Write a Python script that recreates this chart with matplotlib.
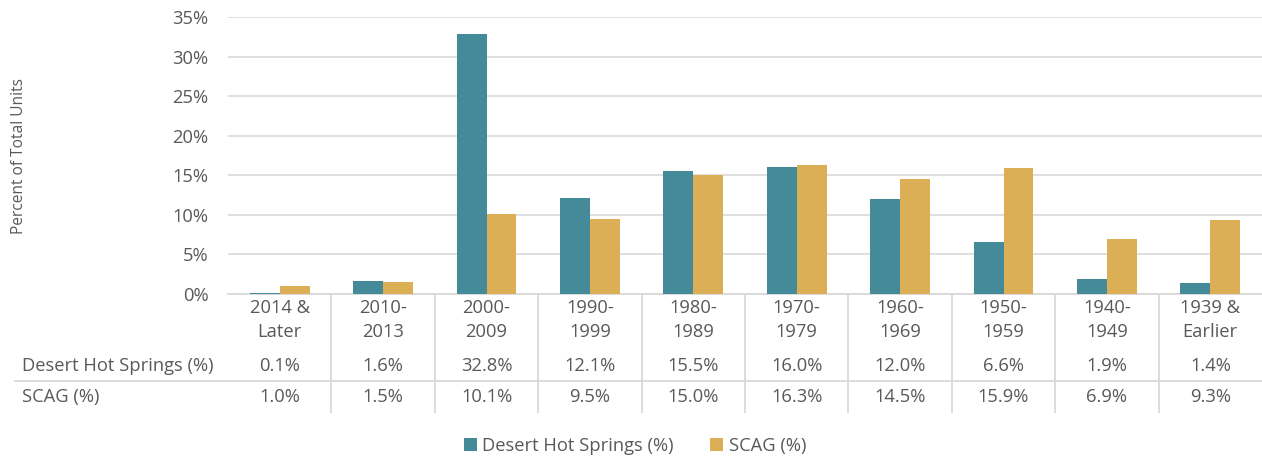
import matplotlib
matplotlib.use("Agg")
import matplotlib.pyplot as plt
import matplotlib.transforms as mtransforms
import numpy as np

categories = ["2014 &\nLater", "2010-\n2013", "2000-\n2009", "1990-\n1999", "1980-\n1989",
              "1970-\n1979", "1960-\n1969", "1950-\n1959", "1940-\n1949", "1939 &\nEarlier"]
dhs = [0.1, 1.6, 32.8, 12.1, 15.5, 16.0, 12.0, 6.6, 1.9, 1.4]
scag = [1.0, 1.5, 10.1, 9.5, 15.0, 16.3, 14.5, 15.9, 6.9, 9.3]
series_names = ["Desert Hot Springs (%)", "SCAG (%)"]

plt.rcParams['font.family'] = ['Open Sans', 'DejaVu Sans']
txt = '#595959'
grid = '#d9d9d9'
c_dhs = '#458a99'
c_scag = '#dcaf57'
fs = 13.2

fig = plt.figure(figsize=(12.62, 4.57), dpi=100)
ax = fig.add_axes([228 / 1262, 1 - 294 / 457, 1 - 228 / 1262, 277 / 457])

x = np.arange(len(categories))
w = 0.29
b1 = ax.bar(x - w / 2, dhs, w, color=c_dhs, label=series_names[0], zorder=3)
b2 = ax.bar(x + w / 2, scag, w, color=c_scag, label=series_names[1], zorder=3)

ax.set_xlim(-0.5, len(categories) - 0.5)
ax.set_ylim(0, 35)
ax.set_yticks(range(0, 36, 5))
ax.set_yticklabels([f"{v}%" for v in range(0, 36, 5)], fontsize=fs, color=txt)
ax.set_xticks([])
ax.tick_params(axis='y', length=0, pad=14)
ax.grid(axis='y', color=grid, lw=1.2, zorder=0)
for s in ['top', 'right', 'left']:
    ax.spines[s].set_visible(False)
ax.spines['bottom'].set_color(grid)
ax.spines['bottom'].set_linewidth(1.3)
ax.set_ylabel("Percent of Total Units", fontsize=11.2, color=txt, va='center')
ax.yaxis.set_label_coords((19 - 228) / 1034, 0.5)

# data table under the axis
tr = mtransforms.blended_transform_factory(ax.transData, ax.transAxes)
tr_fig = mtransforms.blended_transform_factory(fig.transFigure, ax.transAxes)
px = 1 / 277.0
y_cat = -(320 - 294) * px
y_r1 = -(366 - 294) * px
y_r2 = -(397 - 294) * px
y_sep = -(381 - 294) * px
y_bot = -(412 - 294) * px

for i, cat in enumerate(categories):
    ax.text(i, y_cat, cat, transform=tr, ha='center', va='center', fontsize=fs,
            color=txt, linespacing=1.4)
    ax.text(i, y_r1, f"{dhs[i]:.1f}%", transform=tr, ha='center', va='center',
            fontsize=fs, color=txt)
    ax.text(i, y_r2, f"{scag[i]:.1f}%", transform=tr, ha='center', va='center',
            fontsize=fs, color=txt)
for i in range(1, len(categories)):
    ax.plot([i - 0.5, i - 0.5], [0, y_bot], transform=tr, color=grid, lw=1.3,
            clip_on=False)

ax.text(22 / 1262, y_r1, series_names[0], transform=tr_fig, ha='left', va='center',
        fontsize=fs, color=txt)
ax.text(22 / 1262, y_r2, series_names[1], transform=tr_fig, ha='left', va='center',
        fontsize=fs, color=txt)
ax.plot([15 / 1262, 1.0], [y_sep, y_sep], transform=tr_fig, color=grid, lw=1.3,
        clip_on=False)

fig.legend(handles=[b1, b2], loc='center', bbox_to_anchor=(0.503, 1 - 446 / 457),
           ncol=2, frameon=False, fontsize=fs, labelcolor=txt, handlelength=0.7,
           handleheight=0.7, handletextpad=0.3, columnspacing=2.0)

fig.savefig("out.png", dpi=100)
